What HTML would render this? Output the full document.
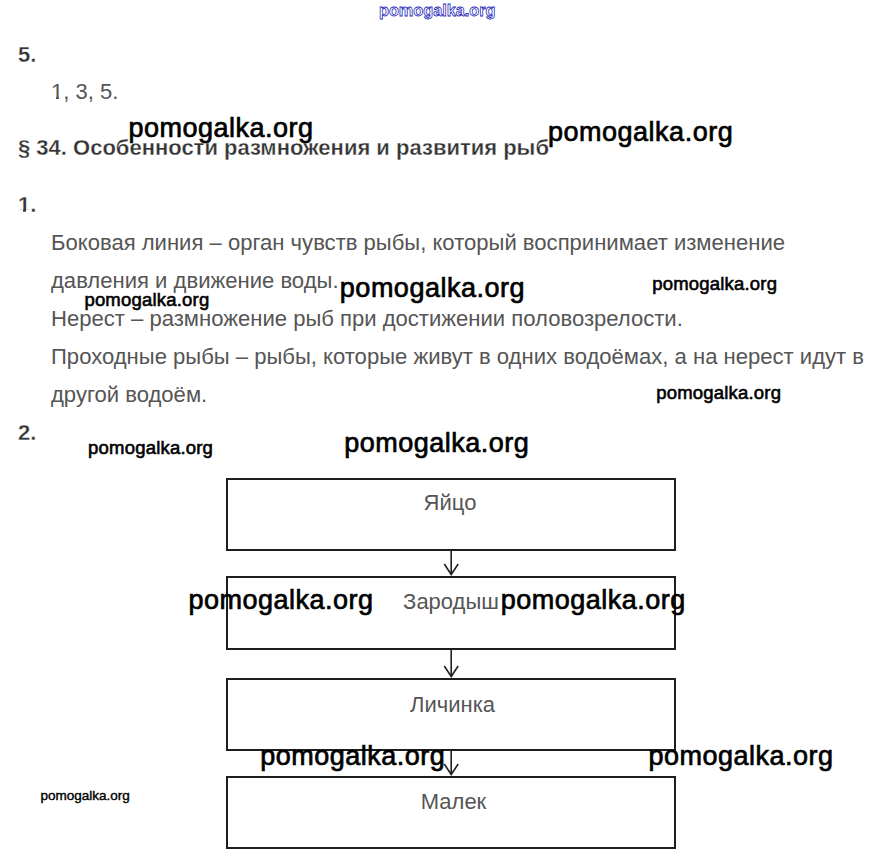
<!DOCTYPE html>
<html><head><meta charset="utf-8"><style>
html,body{margin:0;padding:0;background:#fff;width:874px;height:865px;overflow:hidden;position:relative}
.t{position:absolute;font-family:"Liberation Sans",sans-serif;line-height:1;white-space:nowrap}
.c{text-align:center}
.box{position:absolute;left:226px;width:446px;border:2px solid #1e1e1e;box-sizing:content-box}
</style></head><body>
<div class="t" style="left:379.00px;top:2.24px;font-size:17.2px;font-weight:700;color:#fff;-webkit-text-stroke:0.8px #1e1eb8;letter-spacing:0px;transform:scaleX(0.945);transform-origin:0 0;">pomogalka.org</div>
<div class="t" style="left:18.00px;top:44.38px;font-size:22px;font-weight:700;color:#333;-webkit-text-stroke:0.3px #fff;">5.</div>
<div class="t" style="left:51.00px;top:81.38px;font-size:22px;font-weight:400;color:#555;">1, 3, 5.</div>
<div class="t" style="left:18.00px;top:137.48px;font-size:22px;font-weight:700;color:#333;-webkit-text-stroke:0.3px #fff;">§ 34. Особенности размножения и развития рыб</div>
<div class="t" style="left:18.00px;top:193.88px;font-size:22px;font-weight:700;color:#333;-webkit-text-stroke:0.3px #fff;">1.</div>
<div class="t" style="left:51.00px;top:231.72px;font-size:22.07px;font-weight:400;color:#555;">Боковая линия – орган чувств рыбы, который воспринимает изменение</div>
<div class="t" style="left:51.00px;top:269.72px;font-size:22.07px;font-weight:400;color:#555;">давления и движение воды.</div>
<div class="t" style="left:51.00px;top:307.62px;font-size:22.07px;font-weight:400;color:#555;">Нерест – размножение рыб при достижении половозрелости.</div>
<div class="t" style="left:51.00px;top:346.02px;font-size:22.07px;font-weight:400;color:#555;">Проходные рыбы – рыбы, которые живут в одних водоёмах, а на нерест идут в</div>
<div class="t" style="left:51.00px;top:383.82px;font-size:22.07px;font-weight:400;color:#555;">другой водоём.</div>
<div style="position:absolute;background:#fff;left:51px;top:97px;width:5px;height:2px"></div><div style="position:absolute;background:#fff;left:59px;top:97px;width:4px;height:2px"></div><div style="position:absolute;background:#fff;left:18px;top:209.6px;width:5px;height:3px"></div><div style="position:absolute;background:#fff;left:26px;top:209.6px;width:5px;height:3px"></div><div class="t" style="left:18.00px;top:421.58px;font-size:22px;font-weight:700;color:#333;-webkit-text-stroke:0.3px #fff;">2.</div>
<div class="box" style="top:478px;height:69px"></div>
<div class="t c" style="left:225px;width:450px;top:492.28px;font-size:22px;color:#555">Яйцо</div>
<div class="box" style="top:576px;height:70px"></div>
<div class="t c" style="left:226px;width:450px;top:591.28px;font-size:22px;color:#555">Зародыш</div>
<div class="box" style="top:678px;height:69px"></div>
<div class="t c" style="left:227.5px;width:450px;top:693.68px;font-size:22px;color:#555">Личинка</div>
<div class="box" style="top:776px;height:69px"></div>
<div class="t c" style="left:228.5px;width:450px;top:790.58px;font-size:22px;color:#555">Малек</div>
<svg width="874" height="865" style="position:absolute;left:0;top:0" fill="none" stroke="#222" stroke-width="1.6"><path d="M451.2 551 V575"/><path d="M444.3 564 L451.2 574.5 L458.2 564"/><path d="M451.2 650 V677"/><path d="M444.3 666 L451.2 676.5 L458.2 666"/><path d="M451.2 751 V775"/><path d="M444.3 764 L451.2 774.5 L458.2 764"/></svg>
<div class="t" style="left:128.44px;top:115.14px;font-size:27px;font-weight:400;color:#000;-webkit-text-stroke:0.7px #000;letter-spacing:0.5px;">pomogalka.org</div>
<div class="t" style="left:548.05px;top:119.14px;font-size:27px;font-weight:400;color:#000;-webkit-text-stroke:0.7px #000;letter-spacing:0.5px;">pomogalka.org</div>
<div class="t" style="left:339.85px;top:274.64px;font-size:27px;font-weight:400;color:#000;-webkit-text-stroke:0.7px #000;letter-spacing:0.5px;">pomogalka.org</div>
<div class="t" style="left:84.40px;top:291.34px;font-size:18.5px;font-weight:400;color:#000;-webkit-text-stroke:0.6px #000;letter-spacing:0.2px;">pomogalka.org</div>
<div class="t" style="left:652.20px;top:275.14px;font-size:18.5px;font-weight:400;color:#000;-webkit-text-stroke:0.6px #000;letter-spacing:0.2px;">pomogalka.org</div>
<div class="t" style="left:656.20px;top:383.74px;font-size:18.5px;font-weight:400;color:#000;-webkit-text-stroke:0.6px #000;letter-spacing:0.2px;">pomogalka.org</div>
<div class="t" style="left:88.10px;top:439.14px;font-size:18.5px;font-weight:400;color:#000;-webkit-text-stroke:0.6px #000;letter-spacing:0.2px;">pomogalka.org</div>
<div class="t" style="left:344.15px;top:430.14px;font-size:27px;font-weight:400;color:#000;-webkit-text-stroke:0.7px #000;letter-spacing:0.5px;">pomogalka.org</div>
<div class="t" style="left:188.44px;top:586.74px;font-size:27px;font-weight:400;color:#000;-webkit-text-stroke:0.7px #000;letter-spacing:0.5px;">pomogalka.org</div>
<div class="t" style="left:500.75px;top:587.44px;font-size:27px;font-weight:400;color:#000;-webkit-text-stroke:0.7px #000;letter-spacing:0.5px;">pomogalka.org</div>
<div class="t" style="left:260.25px;top:743.34px;font-size:27px;font-weight:400;color:#000;-webkit-text-stroke:0.7px #000;letter-spacing:0.5px;">pomogalka.org</div>
<div class="t" style="left:648.45px;top:743.34px;font-size:27px;font-weight:400;color:#000;-webkit-text-stroke:0.7px #000;letter-spacing:0.5px;">pomogalka.org</div>
<div class="t" style="left:40.42px;top:788.77px;font-size:13.5px;font-weight:400;color:#000;-webkit-text-stroke:0.4px #000;letter-spacing:0px;">pomogalka.org</div>
</body></html>
